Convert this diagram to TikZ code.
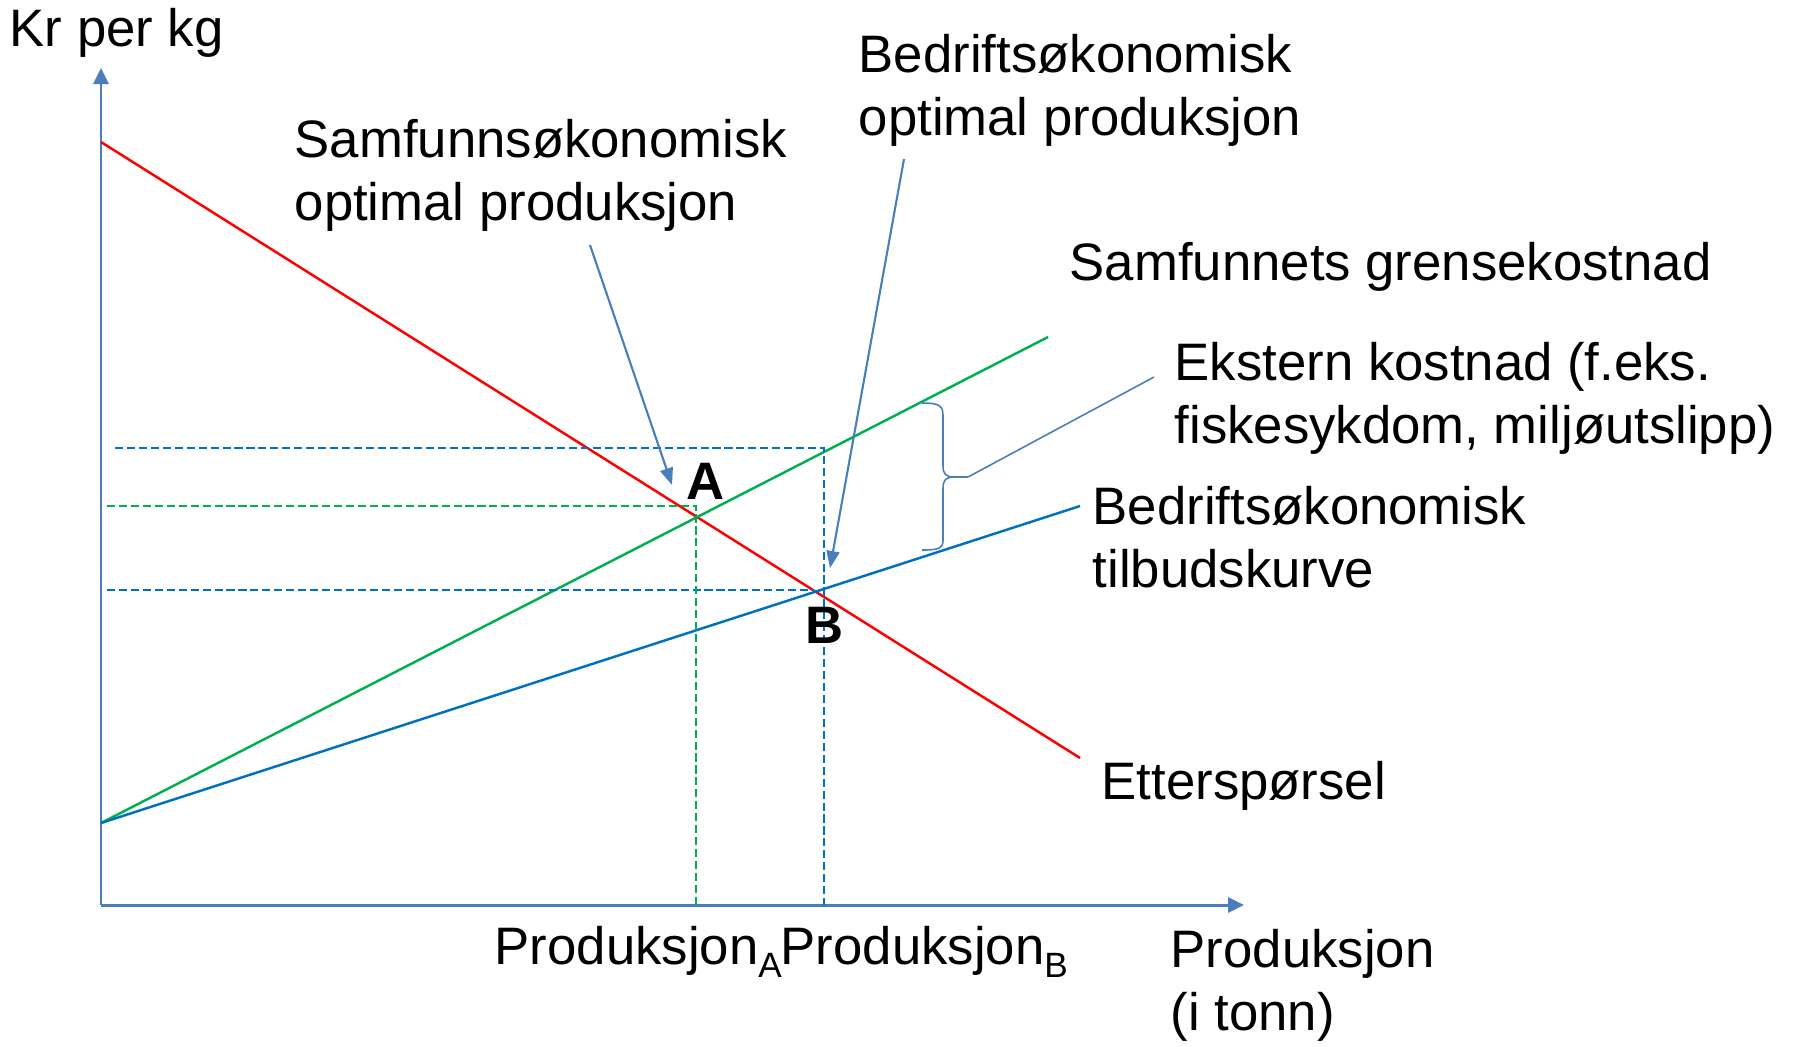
\documentclass[tikz,border=0pt]{standalone}
\usepackage{fontspec}
\setmainfont{Liberation Sans}
\usetikzlibrary{arrows.meta}
\definecolor{axisblue}{HTML}{4A7EBB}
\definecolor{supplyblue}{HTML}{0070C0}
\definecolor{costgreen}{HTML}{00B050}
\definecolor{demandred}{HTML}{FF0000}
\newcommand{\subidx}[1]{\raisebox{-3.7pt}{\fontsize{10}{10}\selectfont #1}}

\begin{document}
\begin{tikzpicture}[x=.1mm,y=-.1mm,font=\fontsize{15}{17.9}\selectfont,
  lbl/.style={anchor=base west,inner sep=0pt,align=left},
  axis/.style={axisblue,line width=.85pt,-{Triangle[length=1.6mm,width=1.5mm]}},
  pointer/.style={axisblue,line width=.6pt,-{Triangle[length=1.7mm,width=1.3mm]}},
  guide/.style={line width=.45pt,dash pattern=on 2.3pt off 1.1pt},
  curve/.style={line width=.7pt}]
\useasboundingbox (0,0) rectangle (1798,1046);
% axes
\coordinate (O) at (101,905);
\coordinate (ytop) at (101,68);
\coordinate (xend) at (1244,905);
\draw[axis] (O)--(ytop);
\draw[axis] (O)--(xend);
% curves
\coordinate (dstart) at (101,142);
\coordinate (dend) at (1080,758);
\coordinate (sstart) at (101,823);
\coordinate (gend) at (1048,337);
\coordinate (bend) at (1080,506);
\draw[curve,demandred] (dstart)--(dend);
\draw[curve,costgreen] (sstart)--(gend);
\draw[curve,supplyblue] (sstart)--(bend);
% guide lines
\draw[guide,supplyblue] (115,448)--(824,448)--(824,905);
\draw[guide,supplyblue] (107,590)--(814,590);
\draw[guide,costgreen] (107,506)--(696,506)--(696,905);
% brace
\coordinate (btip) at (968,477);
\draw[axisblue,line width=.45pt] (922,403) .. controls (940,403) and (943,406) .. (943,416)
  -- (943,466) .. controls (943,474) and (946,477) .. (954,477)
  .. controls (946,477) and (943,480) .. (943,488) -- (943,540)
  .. controls (943,548) and (940,550) .. (922,550);
\draw[axisblue,line width=.45pt] (954,477)--(btip);
% labels (multi-line ones sit on their last line)
\node[lbl] (kr) at (9,46) {Kr per kg};
\node[lbl] (samf) at (294,220) {Samfunnsøkonomisk\\optimal produksjon};
\node[lbl] (bedr) at (858,135) {Bedriftsøkonomisk\\optimal produksjon};
\node[lbl] (grense) at (1069,280) {Samfunnets grensekostnad};
\node[lbl] (ekstern) at (1174,443) {Ekstern kostnad (f.eks.\\fiskesykdom, miljøutslipp)};
\node[lbl] (tilbud) at (1092,587) {Bedriftsøkonomisk\\tilbudskurve};
\node[lbl] (ettersp) at (1101,799) {Etterspørsel};
\node[lbl] (prod) at (1170,1030) {Produksjon\\(i tonn)};
\node[lbl] (prodA) at (494,964) {Produksjon\subidx{A}};
\node[lbl] (prodB) at (780,964) {Produksjon\subidx{B}};
\node[lbl,font=\fontsize{15}{17.9}\selectfont\bfseries] (A) at (686,499) {A};
\node[lbl,font=\fontsize{15}{17.9}\selectfont\bfseries] (B) at (805,643) {B};
% pointers
\coordinate (psA) at (590,245);
\coordinate (peA) at (672,485);
\coordinate (psB) at (904,159);
\coordinate (peB) at (830,568);
\coordinate (ek) at (1154,377);
\draw[pointer] (psA)--(peA);
\draw[pointer] (psB)--(peB);
\draw[axisblue,line width=.45pt] (btip)--(ek);
\end{tikzpicture}
\end{document}
